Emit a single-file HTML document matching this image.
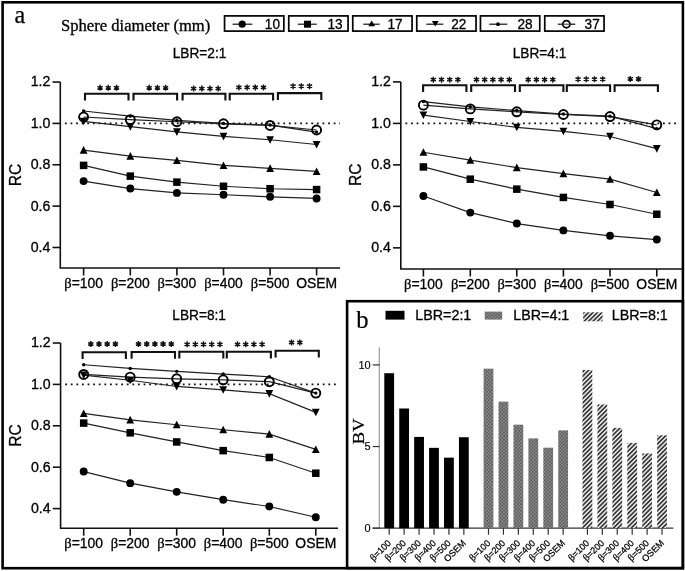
<!DOCTYPE html><html><head><meta charset="utf-8"><style>html,body{margin:0;padding:0;background:#fff;}svg{display:block;will-change:transform;filter:blur(0.4px);}</style></head><body>
<svg width="685" height="571" viewBox="0 0 685 571">
<defs>
<pattern id="dots" width="3.4" height="3.4" patternUnits="userSpaceOnUse"><rect width="3.4" height="3.4" fill="#8a8a8a"/><circle cx="0.85" cy="0.85" r="0.8" fill="#4a4a4a"/><circle cx="2.55" cy="2.55" r="0.8" fill="#4a4a4a"/></pattern>
<pattern id="hatch" width="3.15" height="3.15" patternUnits="userSpaceOnUse" patternTransform="rotate(45)"><rect width="3.15" height="3.15" fill="#e4e4e4"/><rect width="1.55" height="3.15" fill="#333"/></pattern>
</defs>
<rect width="685" height="571" fill="#fff"/>
<rect x="2.6" y="2.3" width="680.3" height="565.9" fill="none" stroke="#000" stroke-width="2.6"/>
<text transform="translate(14.4 23)" font-size="24.2" text-anchor="start" font-family='"Liberation Serif", serif' fill="#000" stroke="#000" stroke-width="0.25">a</text>
<text transform="translate(61 31)" font-size="16.6" text-anchor="start" font-family='"Liberation Serif", serif' fill="#000" stroke="#000" stroke-width="0.3">Sphere diameter (mm)</text>
<rect x="224.55" y="15.9" width="59.3" height="15.2" fill="#fff" stroke="#000" stroke-width="1.7"/>
<path d="M232.6 24.2H252.3" stroke="#111" stroke-width="1.2"/>
<circle cx="242.2" cy="24.2" r="3.6" fill="#000"/>
<text transform="translate(280 28.9) scale(1 1.03)" font-size="13.6" text-anchor="end" font-family='"Liberation Sans", sans-serif' fill="#000" stroke="#000" stroke-width="0.3">10</text>
<rect x="288.75" y="15.9" width="59.3" height="15.2" fill="#fff" stroke="#000" stroke-width="1.7"/>
<path d="M297.8 24.2H316.7" stroke="#111" stroke-width="1.2"/>
<rect x="304" y="20.7" width="7" height="7" fill="#000"/>
<text transform="translate(342.6 28.9) scale(1 1.03)" font-size="13.6" text-anchor="end" font-family='"Liberation Sans", sans-serif' fill="#000" stroke="#000" stroke-width="0.3">13</text>
<rect x="352.75" y="15.9" width="59.3" height="15.2" fill="#fff" stroke="#000" stroke-width="1.7"/>
<path d="M363.3 24.2H379.7" stroke="#111" stroke-width="1.2"/>
<path d="M371.7 20.6L375.1 26.2L368.3 26.2Z" fill="#000"/>
<text transform="translate(402.6 28.9) scale(1 1.03)" font-size="13.6" text-anchor="end" font-family='"Liberation Sans", sans-serif' fill="#000" stroke="#000" stroke-width="0.3">17</text>
<rect x="416.75" y="15.9" width="59.3" height="15.2" fill="#fff" stroke="#000" stroke-width="1.7"/>
<path d="M426.3 24.2H443.2" stroke="#111" stroke-width="1.2"/>
<path d="M435.3 26.4L438.7 21.1L431.9 21.1Z" fill="#000"/>
<text transform="translate(466.4 28.9) scale(1 1.03)" font-size="13.6" text-anchor="end" font-family='"Liberation Sans", sans-serif' fill="#000" stroke="#000" stroke-width="0.3">22</text>
<rect x="480.45" y="15.9" width="59.3" height="15.2" fill="#fff" stroke="#000" stroke-width="1.7"/>
<path d="M489.3 24.2H507.2" stroke="#111" stroke-width="1.2"/>
<circle cx="498" cy="24.2" r="1.9" fill="#000"/>
<text transform="translate(532.6 28.9) scale(1 1.03)" font-size="13.6" text-anchor="end" font-family='"Liberation Sans", sans-serif' fill="#000" stroke="#000" stroke-width="0.3">28</text>
<rect x="544.75" y="15.9" width="59.3" height="15.2" fill="#fff" stroke="#000" stroke-width="1.7"/>
<path d="M557.9 24.2H575.3" stroke="#111" stroke-width="1.2"/>
<circle cx="566.4" cy="24.2" r="3.55" fill="#fff" stroke="#000" stroke-width="1.8"/>
<path d="M562.8 24.2H570" stroke="#555" stroke-width="1.2"/>
<text transform="translate(599.7 28.9) scale(1 1.03)" font-size="13.6" text-anchor="end" font-family='"Liberation Sans", sans-serif' fill="#000" stroke="#000" stroke-width="0.3">37</text>
<text transform="translate(199.5 58) scale(1 1.07)" font-size="13.7" text-anchor="middle" font-family='"Liberation Sans", sans-serif' fill="#000" stroke="#000" stroke-width="0.3">LBR=2:1</text>
<path d="M60.3 82.04V268H340" fill="none" stroke="#111" stroke-width="1.6"/>
<path d="M52.5 82.04H60.3" stroke="#111" stroke-width="1.6"/>
<text transform="translate(50.4 86.44) scale(1 1.04)" font-size="14.2" text-anchor="end" font-family='"Liberation Sans", sans-serif' fill="#000" stroke="#000" stroke-width="0.3">1.2</text>
<path d="M52.5 123.4H60.3" stroke="#111" stroke-width="1.6"/>
<text transform="translate(50.4 127.8) scale(1 1.04)" font-size="14.2" text-anchor="end" font-family='"Liberation Sans", sans-serif' fill="#000" stroke="#000" stroke-width="0.3">1.0</text>
<path d="M52.5 164.76H60.3" stroke="#111" stroke-width="1.6"/>
<text transform="translate(50.4 169.16) scale(1 1.04)" font-size="14.2" text-anchor="end" font-family='"Liberation Sans", sans-serif' fill="#000" stroke="#000" stroke-width="0.3">0.8</text>
<path d="M52.5 206.12H60.3" stroke="#111" stroke-width="1.6"/>
<text transform="translate(50.4 210.52) scale(1 1.04)" font-size="14.2" text-anchor="end" font-family='"Liberation Sans", sans-serif' fill="#000" stroke="#000" stroke-width="0.3">0.6</text>
<path d="M52.5 247.48H60.3" stroke="#111" stroke-width="1.6"/>
<text transform="translate(50.4 251.88) scale(1 1.04)" font-size="14.2" text-anchor="end" font-family='"Liberation Sans", sans-serif' fill="#000" stroke="#000" stroke-width="0.3">0.4</text>
<path d="M83.6 268V275.5" stroke="#111" stroke-width="1.6"/>
<text transform="translate(83.6 287.8) scale(1 1.04)" font-size="13.9" text-anchor="middle" font-family='"Liberation Sans", sans-serif' fill="#000" stroke="#000" stroke-width="0.3"><tspan font-family='"Liberation Serif", serif' font-size="14.5">β</tspan>=100</text>
<path d="M130.3 268V275.5" stroke="#111" stroke-width="1.6"/>
<text transform="translate(130.3 287.8) scale(1 1.04)" font-size="13.9" text-anchor="middle" font-family='"Liberation Sans", sans-serif' fill="#000" stroke="#000" stroke-width="0.3"><tspan font-family='"Liberation Serif", serif' font-size="14.5">β</tspan>=200</text>
<path d="M176.9 268V275.5" stroke="#111" stroke-width="1.6"/>
<text transform="translate(176.9 287.8) scale(1 1.04)" font-size="13.9" text-anchor="middle" font-family='"Liberation Sans", sans-serif' fill="#000" stroke="#000" stroke-width="0.3"><tspan font-family='"Liberation Serif", serif' font-size="14.5">β</tspan>=300</text>
<path d="M223.5 268V275.5" stroke="#111" stroke-width="1.6"/>
<text transform="translate(223.5 287.8) scale(1 1.04)" font-size="13.9" text-anchor="middle" font-family='"Liberation Sans", sans-serif' fill="#000" stroke="#000" stroke-width="0.3"><tspan font-family='"Liberation Serif", serif' font-size="14.5">β</tspan>=400</text>
<path d="M270.1 268V275.5" stroke="#111" stroke-width="1.6"/>
<text transform="translate(270.1 287.8) scale(1 1.04)" font-size="13.9" text-anchor="middle" font-family='"Liberation Sans", sans-serif' fill="#000" stroke="#000" stroke-width="0.3"><tspan font-family='"Liberation Serif", serif' font-size="14.5">β</tspan>=500</text>
<path d="M316.6 268V275.5" stroke="#111" stroke-width="1.6"/>
<text transform="translate(316.6 287.8) scale(1 1.04)" font-size="13.9" text-anchor="middle" font-family='"Liberation Sans", sans-serif' fill="#000" stroke="#000" stroke-width="0.3">OSEM</text>
<text transform="translate(21.2 175.02) rotate(-90)" font-size="15.6" text-anchor="middle" font-family='"Liberation Sans", sans-serif' fill="#000" stroke="#000" stroke-width="0.3">RC</text>
<path d="M64.9 123.4H340" stroke="#111" stroke-width="1.8" stroke-dasharray="1.8 3.8"/>
<path d="M85 100.6V93.8H128.5V100.6" fill="none" stroke="#111" stroke-width="2.1"/>
<path d="M100.1 84.8L100.1 90.8M97.5 86.3L102.7 89.3M102.7 86.3L97.5 89.3M108.3 84.8L108.3 90.8M105.7 86.3L110.9 89.3M110.9 86.3L105.7 89.3M116.5 84.8L116.5 90.8M113.9 86.3L119.1 89.3M119.1 86.3L113.9 89.3" stroke="#111" stroke-width="1.45" fill="none"/>
<path d="M133.5 100.6V93.8H177.1V100.6" fill="none" stroke="#111" stroke-width="2.1"/>
<path d="M149.2 84.8L149.2 90.8M146.6 86.3L151.8 89.3M151.8 86.3L146.6 89.3M157.4 84.8L157.4 90.8M154.8 86.3L160 89.3M160 86.3L154.8 89.3M165.6 84.8L165.6 90.8M163 86.3L168.2 89.3M168.2 86.3L163 89.3" stroke="#111" stroke-width="1.45" fill="none"/>
<path d="M182.6 100.6V93.8H225.4V100.6" fill="none" stroke="#111" stroke-width="2.1"/>
<path d="M193.6 85.6L193.6 91.6M191 87.1L196.2 90.1M196.2 87.1L191 90.1M201.8 85.6L201.8 91.6M199.2 87.1L204.4 90.1M204.4 87.1L199.2 90.1M210 85.6L210 91.6M207.4 87.1L212.6 90.1M212.6 87.1L207.4 90.1M218.2 85.6L218.2 91.6M215.6 87.1L220.8 90.1M220.8 87.1L215.6 90.1" stroke="#111" stroke-width="1.45" fill="none"/>
<path d="M229.7 100.6V93.8H273.1V100.6" fill="none" stroke="#111" stroke-width="2.1"/>
<path d="M238.9 84.4L238.9 90.4M236.3 85.9L241.5 88.9M241.5 85.9L236.3 88.9M247.1 84.4L247.1 90.4M244.5 85.9L249.7 88.9M249.7 85.9L244.5 88.9M255.3 84.4L255.3 90.4M252.7 85.9L257.9 88.9M257.9 85.9L252.7 88.9M263.5 84.4L263.5 90.4M260.9 85.9L266.1 88.9M266.1 85.9L260.9 88.9" stroke="#111" stroke-width="1.45" fill="none"/>
<path d="M277.9 99.9V93.1H321.3V99.9" fill="none" stroke="#111" stroke-width="2.1"/>
<path d="M293.1 83.2L293.1 89.2M290.5 84.7L295.7 87.7M295.7 84.7L290.5 87.7M301.3 83.2L301.3 89.2M298.7 84.7L303.9 87.7M303.9 84.7L298.7 87.7M309.5 83.2L309.5 89.2M306.9 84.7L312.1 87.7M312.1 84.7L306.9 87.7" stroke="#111" stroke-width="1.45" fill="none"/>
<polyline points="83.6,181.1 130.3,188.54 176.9,192.88 223.5,194.75 270.1,196.81 316.6,198.47" fill="none" stroke="#222" stroke-width="1.2"/>
<polyline points="83.6,165.38 130.3,176.13 176.9,182.13 223.5,186.27 270.1,188.75 316.6,189.58" fill="none" stroke="#222" stroke-width="1.2"/>
<polyline points="83.6,150.08 130.3,156.07 176.9,160.42 223.5,165.38 270.1,168.28 316.6,171.38" fill="none" stroke="#222" stroke-width="1.2"/>
<polyline points="83.6,121.33 130.3,126.71 176.9,131.88 223.5,136.43 270.1,139.74 316.6,144.49" fill="none" stroke="#222" stroke-width="1.2"/>
<polyline points="83.6,110.99 130.3,116.16 176.9,120.3 223.5,123.4 270.1,125.05 316.6,132.09" fill="none" stroke="#222" stroke-width="1.2"/>
<polyline points="83.6,116.99 130.3,119.68 176.9,121.75 223.5,123.81 270.1,125.47 316.6,130.02" fill="none" stroke="#222" stroke-width="1.2"/>
<circle cx="83.6" cy="181.1" r="3.95" fill="#000"/>
<circle cx="130.3" cy="188.54" r="3.95" fill="#000"/>
<circle cx="176.9" cy="192.88" r="3.95" fill="#000"/>
<circle cx="223.5" cy="194.75" r="3.95" fill="#000"/>
<circle cx="270.1" cy="196.81" r="3.95" fill="#000"/>
<circle cx="316.6" cy="198.47" r="3.95" fill="#000"/>
<rect x="79.85" y="161.63" width="7.5" height="7.5" fill="#000"/>
<rect x="126.55" y="172.38" width="7.5" height="7.5" fill="#000"/>
<rect x="173.15" y="178.38" width="7.5" height="7.5" fill="#000"/>
<rect x="219.75" y="182.52" width="7.5" height="7.5" fill="#000"/>
<rect x="266.35" y="185" width="7.5" height="7.5" fill="#000"/>
<rect x="312.85" y="185.83" width="7.5" height="7.5" fill="#000"/>
<path d="M83.6 146.08L87.5 153.68L79.7 153.68Z" fill="#000"/>
<path d="M130.3 152.07L134.2 159.67L126.4 159.67Z" fill="#000"/>
<path d="M176.9 156.42L180.8 164.02L173 164.02Z" fill="#000"/>
<path d="M223.5 161.38L227.4 168.98L219.6 168.98Z" fill="#000"/>
<path d="M270.1 164.28L274 171.88L266.2 171.88Z" fill="#000"/>
<path d="M316.6 167.38L320.5 174.98L312.7 174.98Z" fill="#000"/>
<path d="M83.6 125.33L87.5 117.73L79.7 117.73Z" fill="#000"/>
<path d="M130.3 130.71L134.2 123.11L126.4 123.11Z" fill="#000"/>
<path d="M176.9 135.88L180.8 128.28L173 128.28Z" fill="#000"/>
<path d="M223.5 140.43L227.4 132.83L219.6 132.83Z" fill="#000"/>
<path d="M270.1 143.74L274 136.14L266.2 136.14Z" fill="#000"/>
<path d="M316.6 148.49L320.5 140.89L312.7 140.89Z" fill="#000"/>
<circle cx="83.6" cy="110.99" r="1.7" fill="#000"/>
<circle cx="130.3" cy="116.16" r="1.7" fill="#000"/>
<circle cx="176.9" cy="120.3" r="1.7" fill="#000"/>
<circle cx="223.5" cy="123.4" r="1.7" fill="#000"/>
<circle cx="270.1" cy="125.05" r="1.7" fill="#000"/>
<circle cx="316.6" cy="132.09" r="1.7" fill="#000"/>
<circle cx="83.6" cy="116.99" r="4.5" fill="none" stroke="#000" stroke-width="1.9"/>
<circle cx="130.3" cy="119.68" r="4.5" fill="none" stroke="#000" stroke-width="1.9"/>
<circle cx="176.9" cy="121.75" r="4.5" fill="none" stroke="#000" stroke-width="1.9"/>
<circle cx="223.5" cy="123.81" r="4.5" fill="none" stroke="#000" stroke-width="1.9"/>
<circle cx="270.1" cy="125.47" r="4.5" fill="none" stroke="#000" stroke-width="1.9"/>
<circle cx="316.6" cy="130.02" r="4.5" fill="none" stroke="#000" stroke-width="1.9"/>
<text transform="translate(539.5 58) scale(1 1.07)" font-size="13.7" text-anchor="middle" font-family='"Liberation Sans", sans-serif' fill="#000" stroke="#000" stroke-width="0.3">LBR=4:1</text>
<path d="M400.8 81.92V269H682" fill="none" stroke="#111" stroke-width="1.6"/>
<path d="M393 81.92H400.8" stroke="#111" stroke-width="1.6"/>
<text transform="translate(390.9 86.32) scale(1 1.04)" font-size="14.2" text-anchor="end" font-family='"Liberation Sans", sans-serif' fill="#000" stroke="#000" stroke-width="0.3">1.2</text>
<path d="M393 123.4H400.8" stroke="#111" stroke-width="1.6"/>
<text transform="translate(390.9 127.8) scale(1 1.04)" font-size="14.2" text-anchor="end" font-family='"Liberation Sans", sans-serif' fill="#000" stroke="#000" stroke-width="0.3">1.0</text>
<path d="M393 164.88H400.8" stroke="#111" stroke-width="1.6"/>
<text transform="translate(390.9 169.28) scale(1 1.04)" font-size="14.2" text-anchor="end" font-family='"Liberation Sans", sans-serif' fill="#000" stroke="#000" stroke-width="0.3">0.8</text>
<path d="M393 206.36H400.8" stroke="#111" stroke-width="1.6"/>
<text transform="translate(390.9 210.76) scale(1 1.04)" font-size="14.2" text-anchor="end" font-family='"Liberation Sans", sans-serif' fill="#000" stroke="#000" stroke-width="0.3">0.6</text>
<path d="M393 247.84H400.8" stroke="#111" stroke-width="1.6"/>
<text transform="translate(390.9 252.24) scale(1 1.04)" font-size="14.2" text-anchor="end" font-family='"Liberation Sans", sans-serif' fill="#000" stroke="#000" stroke-width="0.3">0.4</text>
<path d="M423.4 269V276.5" stroke="#111" stroke-width="1.6"/>
<text transform="translate(423.4 288.8) scale(1 1.04)" font-size="13.9" text-anchor="middle" font-family='"Liberation Sans", sans-serif' fill="#000" stroke="#000" stroke-width="0.3"><tspan font-family='"Liberation Serif", serif' font-size="14.5">β</tspan>=100</text>
<path d="M470.3 269V276.5" stroke="#111" stroke-width="1.6"/>
<text transform="translate(470.3 288.8) scale(1 1.04)" font-size="13.9" text-anchor="middle" font-family='"Liberation Sans", sans-serif' fill="#000" stroke="#000" stroke-width="0.3"><tspan font-family='"Liberation Serif", serif' font-size="14.5">β</tspan>=200</text>
<path d="M516.8 269V276.5" stroke="#111" stroke-width="1.6"/>
<text transform="translate(516.8 288.8) scale(1 1.04)" font-size="13.9" text-anchor="middle" font-family='"Liberation Sans", sans-serif' fill="#000" stroke="#000" stroke-width="0.3"><tspan font-family='"Liberation Serif", serif' font-size="14.5">β</tspan>=300</text>
<path d="M563.4 269V276.5" stroke="#111" stroke-width="1.6"/>
<text transform="translate(563.4 288.8) scale(1 1.04)" font-size="13.9" text-anchor="middle" font-family='"Liberation Sans", sans-serif' fill="#000" stroke="#000" stroke-width="0.3"><tspan font-family='"Liberation Serif", serif' font-size="14.5">β</tspan>=400</text>
<path d="M610 269V276.5" stroke="#111" stroke-width="1.6"/>
<text transform="translate(610 288.8) scale(1 1.04)" font-size="13.9" text-anchor="middle" font-family='"Liberation Sans", sans-serif' fill="#000" stroke="#000" stroke-width="0.3"><tspan font-family='"Liberation Serif", serif' font-size="14.5">β</tspan>=500</text>
<path d="M656.8 269V276.5" stroke="#111" stroke-width="1.6"/>
<text transform="translate(656.8 288.8) scale(1 1.04)" font-size="13.9" text-anchor="middle" font-family='"Liberation Sans", sans-serif' fill="#000" stroke="#000" stroke-width="0.3">OSEM</text>
<text transform="translate(361.1 174.66) rotate(-90)" font-size="15.6" text-anchor="middle" font-family='"Liberation Sans", sans-serif' fill="#000" stroke="#000" stroke-width="0.3">RC</text>
<path d="M405.4 123.4H676" stroke="#111" stroke-width="1.8" stroke-dasharray="1.8 3.8"/>
<path d="M423.1 92V85.2H466.4V92" fill="none" stroke="#111" stroke-width="2.1"/>
<path d="M433.3 76.7L433.3 82.7M430.7 78.2L435.9 81.2M435.9 78.2L430.7 81.2M441.5 76.7L441.5 82.7M438.9 78.2L444.1 81.2M444.1 78.2L438.9 81.2M449.7 76.7L449.7 82.7M447.1 78.2L452.3 81.2M452.3 78.2L447.1 81.2M457.9 76.7L457.9 82.7M455.3 78.2L460.5 81.2M460.5 78.2L455.3 81.2" stroke="#111" stroke-width="1.45" fill="none"/>
<path d="M471.2 92V85.2H515V92" fill="none" stroke="#111" stroke-width="2.1"/>
<path d="M476.5 76.7L476.5 82.7M473.9 78.2L479.1 81.2M479.1 78.2L473.9 81.2M484.7 76.7L484.7 82.7M482.1 78.2L487.3 81.2M487.3 78.2L482.1 81.2M492.9 76.7L492.9 82.7M490.3 78.2L495.5 81.2M495.5 78.2L490.3 81.2M501.1 76.7L501.1 82.7M498.5 78.2L503.7 81.2M503.7 78.2L498.5 81.2M509.3 76.7L509.3 82.7M506.7 78.2L511.9 81.2M511.9 78.2L506.7 81.2" stroke="#111" stroke-width="1.45" fill="none"/>
<path d="M519.8 92V85.2H563.4V92" fill="none" stroke="#111" stroke-width="2.1"/>
<path d="M528.2 76.7L528.2 82.7M525.6 78.2L530.8 81.2M530.8 78.2L525.6 81.2M536.4 76.7L536.4 82.7M533.8 78.2L539 81.2M539 78.2L533.8 81.2M544.6 76.7L544.6 82.7M542 78.2L547.2 81.2M547.2 78.2L542 81.2M552.8 76.7L552.8 82.7M550.2 78.2L555.4 81.2M555.4 78.2L550.2 81.2" stroke="#111" stroke-width="1.45" fill="none"/>
<path d="M566.8 92V85.2H610.1V92" fill="none" stroke="#111" stroke-width="2.1"/>
<path d="M578.1 76.2L578.1 82.2M575.5 77.7L580.7 80.7M580.7 77.7L575.5 80.7M586.3 76.2L586.3 82.2M583.7 77.7L588.9 80.7M588.9 77.7L583.7 80.7M594.5 76.2L594.5 82.2M591.9 77.7L597.1 80.7M597.1 77.7L591.9 80.7M602.7 76.2L602.7 82.2M600.1 77.7L605.3 80.7M605.3 77.7L600.1 80.7" stroke="#111" stroke-width="1.45" fill="none"/>
<path d="M614.6 92V85.2H657.9V92" fill="none" stroke="#111" stroke-width="2.1"/>
<path d="M630.3 75.9L630.3 81.9M627.7 77.4L632.9 80.4M632.9 77.4L627.7 80.4M638.5 75.9L638.5 81.9M635.9 77.4L641.1 80.4M641.1 77.4L635.9 80.4" stroke="#111" stroke-width="1.45" fill="none"/>
<polyline points="423.4,195.99 470.3,212.58 516.8,223.57 563.4,230.42 610,235.81 656.8,239.54" fill="none" stroke="#222" stroke-width="1.2"/>
<polyline points="423.4,166.95 470.3,179.19 516.8,189.15 563.4,197.44 610,204.49 656.8,214.24" fill="none" stroke="#222" stroke-width="1.2"/>
<polyline points="423.4,152.23 470.3,160.11 516.8,167.58 563.4,173.59 610,179.19 656.8,192.46" fill="none" stroke="#222" stroke-width="1.2"/>
<polyline points="423.4,115.1 470.3,121.53 516.8,127.34 563.4,131.28 610,136.47 656.8,148.7" fill="none" stroke="#222" stroke-width="1.2"/>
<polyline points="423.4,101.62 470.3,106.81 516.8,110.54 563.4,114.07 610,116.14 656.8,128.59" fill="none" stroke="#222" stroke-width="1.2"/>
<polyline points="423.4,105.15 470.3,108.88 516.8,111.79 563.4,114.48 610,116.56 656.8,124.85" fill="none" stroke="#222" stroke-width="1.2"/>
<circle cx="423.4" cy="195.99" r="3.95" fill="#000"/>
<circle cx="470.3" cy="212.58" r="3.95" fill="#000"/>
<circle cx="516.8" cy="223.57" r="3.95" fill="#000"/>
<circle cx="563.4" cy="230.42" r="3.95" fill="#000"/>
<circle cx="610" cy="235.81" r="3.95" fill="#000"/>
<circle cx="656.8" cy="239.54" r="3.95" fill="#000"/>
<rect x="419.65" y="163.2" width="7.5" height="7.5" fill="#000"/>
<rect x="466.55" y="175.44" width="7.5" height="7.5" fill="#000"/>
<rect x="513.05" y="185.4" width="7.5" height="7.5" fill="#000"/>
<rect x="559.65" y="193.69" width="7.5" height="7.5" fill="#000"/>
<rect x="606.25" y="200.74" width="7.5" height="7.5" fill="#000"/>
<rect x="653.05" y="210.49" width="7.5" height="7.5" fill="#000"/>
<path d="M423.4 148.23L427.3 155.83L419.5 155.83Z" fill="#000"/>
<path d="M470.3 156.11L474.2 163.71L466.4 163.71Z" fill="#000"/>
<path d="M516.8 163.58L520.7 171.18L512.9 171.18Z" fill="#000"/>
<path d="M563.4 169.59L567.3 177.19L559.5 177.19Z" fill="#000"/>
<path d="M610 175.19L613.9 182.79L606.1 182.79Z" fill="#000"/>
<path d="M656.8 188.46L660.7 196.06L652.9 196.06Z" fill="#000"/>
<path d="M423.4 119.1L427.3 111.5L419.5 111.5Z" fill="#000"/>
<path d="M470.3 125.53L474.2 117.93L466.4 117.93Z" fill="#000"/>
<path d="M516.8 131.34L520.7 123.74L512.9 123.74Z" fill="#000"/>
<path d="M563.4 135.28L567.3 127.68L559.5 127.68Z" fill="#000"/>
<path d="M610 140.47L613.9 132.87L606.1 132.87Z" fill="#000"/>
<path d="M656.8 152.7L660.7 145.1L652.9 145.1Z" fill="#000"/>
<circle cx="423.4" cy="101.62" r="1.7" fill="#000"/>
<circle cx="470.3" cy="106.81" r="1.7" fill="#000"/>
<circle cx="516.8" cy="110.54" r="1.7" fill="#000"/>
<circle cx="563.4" cy="114.07" r="1.7" fill="#000"/>
<circle cx="610" cy="116.14" r="1.7" fill="#000"/>
<circle cx="656.8" cy="128.59" r="1.7" fill="#000"/>
<circle cx="423.4" cy="105.15" r="4.5" fill="none" stroke="#000" stroke-width="1.9"/>
<circle cx="470.3" cy="108.88" r="4.5" fill="none" stroke="#000" stroke-width="1.9"/>
<circle cx="516.8" cy="111.79" r="4.5" fill="none" stroke="#000" stroke-width="1.9"/>
<circle cx="563.4" cy="114.48" r="4.5" fill="none" stroke="#000" stroke-width="1.9"/>
<circle cx="610" cy="116.56" r="4.5" fill="none" stroke="#000" stroke-width="1.9"/>
<circle cx="656.8" cy="124.85" r="4.5" fill="none" stroke="#000" stroke-width="1.9"/>
<text transform="translate(199.1 319.6) scale(1 1.07)" font-size="13.7" text-anchor="middle" font-family='"Liberation Sans", sans-serif' fill="#000" stroke="#000" stroke-width="0.3">LBR=8:1</text>
<path d="M60.6 343V528.2H338" fill="none" stroke="#111" stroke-width="1.6"/>
<path d="M52.8 343H60.6" stroke="#111" stroke-width="1.6"/>
<text transform="translate(50.7 347.4) scale(1 1.04)" font-size="14.2" text-anchor="end" font-family='"Liberation Sans", sans-serif' fill="#000" stroke="#000" stroke-width="0.3">1.2</text>
<path d="M52.8 384.4H60.6" stroke="#111" stroke-width="1.6"/>
<text transform="translate(50.7 388.8) scale(1 1.04)" font-size="14.2" text-anchor="end" font-family='"Liberation Sans", sans-serif' fill="#000" stroke="#000" stroke-width="0.3">1.0</text>
<path d="M52.8 425.8H60.6" stroke="#111" stroke-width="1.6"/>
<text transform="translate(50.7 430.2) scale(1 1.04)" font-size="14.2" text-anchor="end" font-family='"Liberation Sans", sans-serif' fill="#000" stroke="#000" stroke-width="0.3">0.8</text>
<path d="M52.8 467.2H60.6" stroke="#111" stroke-width="1.6"/>
<text transform="translate(50.7 471.6) scale(1 1.04)" font-size="14.2" text-anchor="end" font-family='"Liberation Sans", sans-serif' fill="#000" stroke="#000" stroke-width="0.3">0.6</text>
<path d="M52.8 508.6H60.6" stroke="#111" stroke-width="1.6"/>
<text transform="translate(50.7 513) scale(1 1.04)" font-size="14.2" text-anchor="end" font-family='"Liberation Sans", sans-serif' fill="#000" stroke="#000" stroke-width="0.3">0.4</text>
<path d="M83.7 528.2V535.7" stroke="#111" stroke-width="1.6"/>
<text transform="translate(83.7 548) scale(1 1.04)" font-size="13.9" text-anchor="middle" font-family='"Liberation Sans", sans-serif' fill="#000" stroke="#000" stroke-width="0.3"><tspan font-family='"Liberation Serif", serif' font-size="14.5">β</tspan>=100</text>
<path d="M130.2 528.2V535.7" stroke="#111" stroke-width="1.6"/>
<text transform="translate(130.2 548) scale(1 1.04)" font-size="13.9" text-anchor="middle" font-family='"Liberation Sans", sans-serif' fill="#000" stroke="#000" stroke-width="0.3"><tspan font-family='"Liberation Serif", serif' font-size="14.5">β</tspan>=200</text>
<path d="M176.7 528.2V535.7" stroke="#111" stroke-width="1.6"/>
<text transform="translate(176.7 548) scale(1 1.04)" font-size="13.9" text-anchor="middle" font-family='"Liberation Sans", sans-serif' fill="#000" stroke="#000" stroke-width="0.3"><tspan font-family='"Liberation Serif", serif' font-size="14.5">β</tspan>=300</text>
<path d="M223.2 528.2V535.7" stroke="#111" stroke-width="1.6"/>
<text transform="translate(223.2 548) scale(1 1.04)" font-size="13.9" text-anchor="middle" font-family='"Liberation Sans", sans-serif' fill="#000" stroke="#000" stroke-width="0.3"><tspan font-family='"Liberation Serif", serif' font-size="14.5">β</tspan>=400</text>
<path d="M269.3 528.2V535.7" stroke="#111" stroke-width="1.6"/>
<text transform="translate(269.3 548) scale(1 1.04)" font-size="13.9" text-anchor="middle" font-family='"Liberation Sans", sans-serif' fill="#000" stroke="#000" stroke-width="0.3"><tspan font-family='"Liberation Serif", serif' font-size="14.5">β</tspan>=500</text>
<path d="M315.8 528.2V535.7" stroke="#111" stroke-width="1.6"/>
<text transform="translate(315.8 548) scale(1 1.04)" font-size="13.9" text-anchor="middle" font-family='"Liberation Sans", sans-serif' fill="#000" stroke="#000" stroke-width="0.3">OSEM</text>
<text transform="translate(21.2 435.6) rotate(-90)" font-size="15.6" text-anchor="middle" font-family='"Liberation Sans", sans-serif' fill="#000" stroke="#000" stroke-width="0.3">RC</text>
<path d="M65.2 384.4H338" stroke="#111" stroke-width="1.8" stroke-dasharray="1.8 3.8"/>
<path d="M82.6 359.1V352.3H125.9V359.1" fill="none" stroke="#111" stroke-width="2.1"/>
<path d="M90.8 341L90.8 347M88.2 342.5L93.4 345.5M93.4 342.5L88.2 345.5M99 341L99 347M96.4 342.5L101.6 345.5M101.6 342.5L96.4 345.5M107.2 341L107.2 347M104.6 342.5L109.8 345.5M109.8 342.5L104.6 345.5M115.4 341L115.4 347M112.8 342.5L118 345.5M118 342.5L112.8 345.5" stroke="#111" stroke-width="1.45" fill="none"/>
<path d="M131.6 358.8V352H175V358.8" fill="none" stroke="#111" stroke-width="2.1"/>
<path d="M138.5 341L138.5 347M135.9 342.5L141.1 345.5M141.1 342.5L135.9 345.5M146.7 341L146.7 347M144.1 342.5L149.3 345.5M149.3 342.5L144.1 345.5M154.9 341L154.9 347M152.3 342.5L157.5 345.5M157.5 342.5L152.3 345.5M163.1 341L163.1 347M160.5 342.5L165.7 345.5M165.7 342.5L160.5 345.5M171.3 341L171.3 347M168.7 342.5L173.9 345.5M173.9 342.5L168.7 345.5" stroke="#111" stroke-width="1.45" fill="none"/>
<path d="M179.3 358.6V351.8H223.3V358.6" fill="none" stroke="#111" stroke-width="2.1"/>
<path d="M187.1 341.3L187.1 347.3M184.5 342.8L189.7 345.8M189.7 342.8L184.5 345.8M195.3 341.3L195.3 347.3M192.7 342.8L197.9 345.8M197.9 342.8L192.7 345.8M203.5 341.3L203.5 347.3M200.9 342.8L206.1 345.8M206.1 342.8L200.9 345.8M211.7 341.3L211.7 347.3M209.1 342.8L214.3 345.8M214.3 342.8L209.1 345.8M219.9 341.3L219.9 347.3M217.3 342.8L222.5 345.8M222.5 342.8L217.3 345.8" stroke="#111" stroke-width="1.45" fill="none"/>
<path d="M226.8 358.6V351.8H270.9V358.6" fill="none" stroke="#111" stroke-width="2.1"/>
<path d="M237.5 341.3L237.5 347.3M234.9 342.8L240.1 345.8M240.1 342.8L234.9 345.8M245.7 341.3L245.7 347.3M243.1 342.8L248.3 345.8M248.3 342.8L243.1 345.8M253.9 341.3L253.9 347.3M251.3 342.8L256.5 345.8M256.5 342.8L251.3 345.8M262.1 341.3L262.1 347.3M259.5 342.8L264.7 345.8M264.7 342.8L259.5 345.8" stroke="#111" stroke-width="1.45" fill="none"/>
<path d="M275.6 357.6V350.8H318.8V357.6" fill="none" stroke="#111" stroke-width="2.1"/>
<path d="M291.6 339.5L291.6 345.5M289 341L294.2 344M294.2 341L289 344M299.8 339.5L299.8 345.5M297.2 341L302.4 344M302.4 341L297.2 344" stroke="#111" stroke-width="1.45" fill="none"/>
<polyline points="83.7,471.55 130.2,483.14 176.7,491.83 223.2,499.7 269.3,506.53 315.8,517.29" fill="none" stroke="#222" stroke-width="1.2"/>
<polyline points="83.7,423.11 130.2,432.84 176.7,441.95 223.2,450.64 269.3,457.47 315.8,473.2" fill="none" stroke="#222" stroke-width="1.2"/>
<polyline points="83.7,413.38 130.2,419.8 176.7,424.76 223.2,429.73 269.3,434.08 315.8,449.4" fill="none" stroke="#222" stroke-width="1.2"/>
<polyline points="83.7,375.08 130.2,380.26 176.7,386.47 223.2,389.78 269.3,393.71 315.8,412.34" fill="none" stroke="#222" stroke-width="1.2"/>
<polyline points="83.7,364.73 130.2,368.46 176.7,371.36 223.2,374.05 269.3,376.74 315.8,393.09" fill="none" stroke="#222" stroke-width="1.2"/>
<polyline points="83.7,374.46 130.2,377.15 176.7,378.81 223.2,379.85 269.3,381.71 315.8,393.09" fill="none" stroke="#222" stroke-width="1.2"/>
<circle cx="83.7" cy="471.55" r="3.95" fill="#000"/>
<circle cx="130.2" cy="483.14" r="3.95" fill="#000"/>
<circle cx="176.7" cy="491.83" r="3.95" fill="#000"/>
<circle cx="223.2" cy="499.7" r="3.95" fill="#000"/>
<circle cx="269.3" cy="506.53" r="3.95" fill="#000"/>
<circle cx="315.8" cy="517.29" r="3.95" fill="#000"/>
<rect x="79.95" y="419.36" width="7.5" height="7.5" fill="#000"/>
<rect x="126.45" y="429.09" width="7.5" height="7.5" fill="#000"/>
<rect x="172.95" y="438.2" width="7.5" height="7.5" fill="#000"/>
<rect x="219.45" y="446.89" width="7.5" height="7.5" fill="#000"/>
<rect x="265.55" y="453.72" width="7.5" height="7.5" fill="#000"/>
<rect x="312.05" y="469.45" width="7.5" height="7.5" fill="#000"/>
<path d="M83.7 409.38L87.6 416.98L79.8 416.98Z" fill="#000"/>
<path d="M130.2 415.8L134.1 423.4L126.3 423.4Z" fill="#000"/>
<path d="M176.7 420.76L180.6 428.37L172.8 428.37Z" fill="#000"/>
<path d="M223.2 425.73L227.1 433.33L219.3 433.33Z" fill="#000"/>
<path d="M269.3 430.08L273.2 437.68L265.4 437.68Z" fill="#000"/>
<path d="M315.8 445.4L319.7 453L311.9 453Z" fill="#000"/>
<path d="M83.7 379.08L87.6 371.48L79.8 371.48Z" fill="#000"/>
<path d="M130.2 384.26L134.1 376.66L126.3 376.66Z" fill="#000"/>
<path d="M176.7 390.47L180.6 382.87L172.8 382.87Z" fill="#000"/>
<path d="M223.2 393.78L227.1 386.18L219.3 386.18Z" fill="#000"/>
<path d="M269.3 397.71L273.2 390.11L265.4 390.11Z" fill="#000"/>
<path d="M315.8 416.34L319.7 408.74L311.9 408.74Z" fill="#000"/>
<circle cx="83.7" cy="364.73" r="1.7" fill="#000"/>
<circle cx="130.2" cy="368.46" r="1.7" fill="#000"/>
<circle cx="176.7" cy="371.36" r="1.7" fill="#000"/>
<circle cx="223.2" cy="374.05" r="1.7" fill="#000"/>
<circle cx="269.3" cy="376.74" r="1.7" fill="#000"/>
<circle cx="315.8" cy="393.09" r="1.7" fill="#000"/>
<circle cx="83.7" cy="374.46" r="4.5" fill="none" stroke="#000" stroke-width="1.9"/>
<circle cx="130.2" cy="377.15" r="4.5" fill="none" stroke="#000" stroke-width="1.9"/>
<circle cx="176.7" cy="378.81" r="4.5" fill="none" stroke="#000" stroke-width="1.9"/>
<circle cx="223.2" cy="379.85" r="4.5" fill="none" stroke="#000" stroke-width="1.9"/>
<circle cx="269.3" cy="381.71" r="4.5" fill="none" stroke="#000" stroke-width="1.9"/>
<circle cx="315.8" cy="393.09" r="4.5" fill="none" stroke="#000" stroke-width="1.9"/>
<rect x="347.1" y="301.2" width="335.8" height="266.9" fill="none" stroke="#000" stroke-width="2.6"/>
<text transform="translate(356.3 328.4)" font-size="24.6" text-anchor="start" font-family='"Liberation Serif", serif' fill="#000" stroke="#000" stroke-width="0.2">b</text>
<rect x="385.5" y="310.8" width="19" height="8.8" fill="#000"/>
<text transform="translate(415.3 320) scale(1 1.02)" font-size="14.3" text-anchor="start" font-family='"Liberation Sans", sans-serif' fill="#000" stroke="#000" stroke-width="0.3">LBR=2:1</text>
<rect x="484.7" y="311.6" width="17.5" height="8" fill="url(#dots)"/>
<text transform="translate(513.3 320) scale(1 1.02)" font-size="14.3" text-anchor="start" font-family='"Liberation Sans", sans-serif' fill="#000" stroke="#000" stroke-width="0.3">LBR=4:1</text>
<rect x="583.2" y="312.3" width="19.4" height="9" fill="url(#hatch)"/>
<text transform="translate(611.8 320) scale(1 1.02)" font-size="14.3" text-anchor="start" font-family='"Liberation Sans", sans-serif' fill="#000" stroke="#000" stroke-width="0.3">LBR=8:1</text>
<path d="M379.3 347.4V528.2" stroke="#999" stroke-width="1.2"/>
<path d="M372.6 528.2H673.3" stroke="#333" stroke-width="1.3"/>
<path d="M372.7 364.9H379.5" stroke="#333" stroke-width="1.2"/>
<text transform="translate(370.7 368.7)" font-size="11" text-anchor="end" font-family='"Liberation Sans", sans-serif' fill="#000" stroke="#000" stroke-width="0.15">10</text>
<path d="M372.7 446.55H379.5" stroke="#333" stroke-width="1.2"/>
<text transform="translate(370.7 450.35)" font-size="11" text-anchor="end" font-family='"Liberation Sans", sans-serif' fill="#000" stroke="#000" stroke-width="0.15">5</text>
<path d="M372.7 528.2H379.5" stroke="#333" stroke-width="1.2"/>
<text transform="translate(370.7 532)" font-size="11" text-anchor="end" font-family='"Liberation Sans", sans-serif' fill="#000" stroke="#000" stroke-width="0.15">0</text>
<text transform="translate(363.6 431.3) rotate(-90) scale(1.09 1)" font-size="17" text-anchor="middle" font-family='"Liberation Serif", serif' fill="#000" stroke="#000" stroke-width="0.25">BV</text>
<rect x="384.3" y="373.23" width="9.8" height="154.97" fill="#000"/>
<path d="M389.2 528.2V534.7" stroke="#333" stroke-width="1.2"/>
<text transform="translate(391.7 543.6) rotate(-45)" font-size="9.1" text-anchor="end" font-family='"Liberation Sans", sans-serif' fill="#000" stroke="#000" stroke-width="0.25"><tspan font-family='"Liberation Serif", serif' font-size="9.8">β</tspan>=100</text>
<rect x="399.23" y="408.5" width="9.8" height="119.7" fill="#000"/>
<path d="M404.13 528.2V534.7" stroke="#333" stroke-width="1.2"/>
<text transform="translate(406.63 543.6) rotate(-45)" font-size="9.1" text-anchor="end" font-family='"Liberation Sans", sans-serif' fill="#000" stroke="#000" stroke-width="0.25"><tspan font-family='"Liberation Serif", serif' font-size="9.8">β</tspan>=200</text>
<rect x="414.16" y="436.92" width="9.8" height="91.28" fill="#000"/>
<path d="M419.06 528.2V534.7" stroke="#333" stroke-width="1.2"/>
<text transform="translate(421.56 543.6) rotate(-45)" font-size="9.1" text-anchor="end" font-family='"Liberation Sans", sans-serif' fill="#000" stroke="#000" stroke-width="0.25"><tspan font-family='"Liberation Serif", serif' font-size="9.8">β</tspan>=300</text>
<rect x="429.09" y="447.86" width="9.8" height="80.34" fill="#000"/>
<path d="M433.99 528.2V534.7" stroke="#333" stroke-width="1.2"/>
<text transform="translate(436.49 543.6) rotate(-45)" font-size="9.1" text-anchor="end" font-family='"Liberation Sans", sans-serif' fill="#000" stroke="#000" stroke-width="0.25"><tspan font-family='"Liberation Serif", serif' font-size="9.8">β</tspan>=400</text>
<rect x="444.02" y="457.65" width="9.8" height="70.55" fill="#000"/>
<path d="M448.92 528.2V534.7" stroke="#333" stroke-width="1.2"/>
<text transform="translate(451.42 543.6) rotate(-45)" font-size="9.1" text-anchor="end" font-family='"Liberation Sans", sans-serif' fill="#000" stroke="#000" stroke-width="0.25"><tspan font-family='"Liberation Serif", serif' font-size="9.8">β</tspan>=500</text>
<rect x="458.95" y="437.24" width="9.8" height="90.96" fill="#000"/>
<path d="M463.85 528.2V534.7" stroke="#333" stroke-width="1.2"/>
<text transform="translate(466.35 543.6) rotate(-45)" font-size="9.1" text-anchor="end" font-family='"Liberation Sans", sans-serif' fill="#000" stroke="#000" stroke-width="0.25">OSEM</text>
<rect x="483.6" y="368.66" width="9.8" height="159.54" fill="url(#dots)"/>
<path d="M488.5 528.2V534.7" stroke="#333" stroke-width="1.2"/>
<text transform="translate(491 543.6) rotate(-45)" font-size="9.1" text-anchor="end" font-family='"Liberation Sans", sans-serif' fill="#000" stroke="#000" stroke-width="0.25"><tspan font-family='"Liberation Serif", serif' font-size="9.8">β</tspan>=100</text>
<rect x="498.53" y="401.64" width="9.8" height="126.56" fill="url(#dots)"/>
<path d="M503.43 528.2V534.7" stroke="#333" stroke-width="1.2"/>
<text transform="translate(505.93 543.6) rotate(-45)" font-size="9.1" text-anchor="end" font-family='"Liberation Sans", sans-serif' fill="#000" stroke="#000" stroke-width="0.25"><tspan font-family='"Liberation Serif", serif' font-size="9.8">β</tspan>=200</text>
<rect x="513.46" y="424.67" width="9.8" height="103.53" fill="url(#dots)"/>
<path d="M518.36 528.2V534.7" stroke="#333" stroke-width="1.2"/>
<text transform="translate(520.86 543.6) rotate(-45)" font-size="9.1" text-anchor="end" font-family='"Liberation Sans", sans-serif' fill="#000" stroke="#000" stroke-width="0.25"><tspan font-family='"Liberation Serif", serif' font-size="9.8">β</tspan>=300</text>
<rect x="528.39" y="438.39" width="9.8" height="89.81" fill="url(#dots)"/>
<path d="M533.29 528.2V534.7" stroke="#333" stroke-width="1.2"/>
<text transform="translate(535.79 543.6) rotate(-45)" font-size="9.1" text-anchor="end" font-family='"Liberation Sans", sans-serif' fill="#000" stroke="#000" stroke-width="0.25"><tspan font-family='"Liberation Serif", serif' font-size="9.8">β</tspan>=400</text>
<rect x="543.32" y="447.69" width="9.8" height="80.51" fill="url(#dots)"/>
<path d="M548.22 528.2V534.7" stroke="#333" stroke-width="1.2"/>
<text transform="translate(550.72 543.6) rotate(-45)" font-size="9.1" text-anchor="end" font-family='"Liberation Sans", sans-serif' fill="#000" stroke="#000" stroke-width="0.25"><tspan font-family='"Liberation Serif", serif' font-size="9.8">β</tspan>=500</text>
<rect x="558.25" y="430.38" width="9.8" height="97.82" fill="url(#dots)"/>
<path d="M563.15 528.2V534.7" stroke="#333" stroke-width="1.2"/>
<text transform="translate(565.65 543.6) rotate(-45)" font-size="9.1" text-anchor="end" font-family='"Liberation Sans", sans-serif' fill="#000" stroke="#000" stroke-width="0.25">OSEM</text>
<rect x="582.5" y="369.96" width="9.8" height="158.24" fill="url(#hatch)"/>
<path d="M587.4 528.2V534.7" stroke="#333" stroke-width="1.2"/>
<text transform="translate(589.9 543.6) rotate(-45)" font-size="9.1" text-anchor="end" font-family='"Liberation Sans", sans-serif' fill="#000" stroke="#000" stroke-width="0.25"><tspan font-family='"Liberation Serif", serif' font-size="9.8">β</tspan>=100</text>
<rect x="597.43" y="404.42" width="9.8" height="123.78" fill="url(#hatch)"/>
<path d="M602.33 528.2V534.7" stroke="#333" stroke-width="1.2"/>
<text transform="translate(604.83 543.6) rotate(-45)" font-size="9.1" text-anchor="end" font-family='"Liberation Sans", sans-serif' fill="#000" stroke="#000" stroke-width="0.25"><tspan font-family='"Liberation Serif", serif' font-size="9.8">β</tspan>=200</text>
<rect x="612.36" y="427.93" width="9.8" height="100.27" fill="url(#hatch)"/>
<path d="M617.26 528.2V534.7" stroke="#333" stroke-width="1.2"/>
<text transform="translate(619.76 543.6) rotate(-45)" font-size="9.1" text-anchor="end" font-family='"Liberation Sans", sans-serif' fill="#000" stroke="#000" stroke-width="0.25"><tspan font-family='"Liberation Serif", serif' font-size="9.8">β</tspan>=300</text>
<rect x="627.29" y="442.96" width="9.8" height="85.24" fill="url(#hatch)"/>
<path d="M632.19 528.2V534.7" stroke="#333" stroke-width="1.2"/>
<text transform="translate(634.69 543.6) rotate(-45)" font-size="9.1" text-anchor="end" font-family='"Liberation Sans", sans-serif' fill="#000" stroke="#000" stroke-width="0.25"><tspan font-family='"Liberation Serif", serif' font-size="9.8">β</tspan>=400</text>
<rect x="642.22" y="453.41" width="9.8" height="74.79" fill="url(#hatch)"/>
<path d="M647.12 528.2V534.7" stroke="#333" stroke-width="1.2"/>
<text transform="translate(649.62 543.6) rotate(-45)" font-size="9.1" text-anchor="end" font-family='"Liberation Sans", sans-serif' fill="#000" stroke="#000" stroke-width="0.25"><tspan font-family='"Liberation Serif", serif' font-size="9.8">β</tspan>=500</text>
<rect x="657.15" y="435.28" width="9.8" height="92.92" fill="url(#hatch)"/>
<path d="M662.05 528.2V534.7" stroke="#333" stroke-width="1.2"/>
<text transform="translate(664.55 543.6) rotate(-45)" font-size="9.1" text-anchor="end" font-family='"Liberation Sans", sans-serif' fill="#000" stroke="#000" stroke-width="0.25">OSEM</text>
</svg></body></html>
